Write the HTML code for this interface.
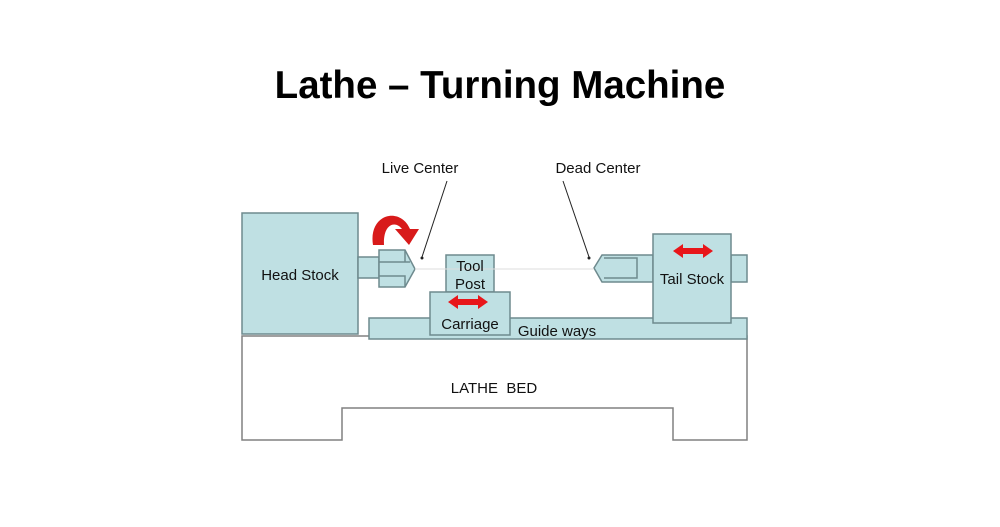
<!DOCTYPE html>
<html><head><style>
body{margin:0;background:#fff;}
</style></head><body>
<svg width="1000" height="522" viewBox="0 0 1000 522" xmlns="http://www.w3.org/2000/svg" font-family="Liberation Sans, sans-serif">
<rect width="1000" height="522" fill="#fff"/>
<text x="500" y="98" text-anchor="middle" font-size="38.5" font-weight="bold" fill="#000">Lathe – Turning Machine</text>
<g stroke="#6e8a8e" stroke-width="1.5" fill="#bfe0e3">
<path d="M242 336 L747 336 L747 440 L673 440 L673 408 L342 408 L342 440 L242 440 Z" fill="#fff" stroke="#808080"/>
<rect x="369" y="318" width="378" height="21"/>
<rect x="242" y="213" width="116" height="121"/>
<rect x="358" y="257" width="21" height="21"/>
<path d="M379 250 L405 250 L415 269 L405 287 L379 287 Z"/>
<path d="M379 262 L405 262 M379 276 L405 276 L405 287 M405 250 L405 262 L410 262" fill="none"/>
<rect x="446" y="255" width="48" height="37"/>
<rect x="430" y="292" width="80" height="43"/>
<rect x="731" y="255" width="16" height="27"/>
<path d="M653 255 L602 255 L594 268 L602 282 L653 282 Z"/>
<path d="M604 258 L637 258 L637 278 L604 278" fill="none"/>
<rect x="653" y="234" width="78" height="89"/>
</g>
<line x1="415" y1="269" x2="594" y2="269" stroke="#ddd" stroke-width="1"/>
<line x1="447" y1="181" x2="422" y2="257" stroke="#222" stroke-width="1"/>
<circle cx="422" cy="258" r="1.5" fill="#222"/>
<line x1="563" y1="181" x2="589" y2="257" stroke="#222" stroke-width="1"/>
<circle cx="589" cy="258" r="1.5" fill="#222"/>
<path d="M373 245 C368 214 400 206 410 229 L419 229 L409 245 L395 229 L402 229 C395 220 383 224 384 245 Z" fill="#d81a1a"/>
<path d="M448 302 L458 295 L458 299 L478 299 L478 295 L488 302 L478 309 L478 305 L458 305 L458 309 Z" fill="#e8161a"/>
<path d="M673 251 L683 244 L683 248 L703 248 L703 244 L713 251 L703 258 L703 254 L683 254 L683 258 Z" fill="#e8161a"/>
<g font-size="15" fill="#111" text-anchor="middle">
<text x="420" y="173">Live Center</text>
<text x="598" y="173">Dead Center</text>
<text x="300" y="280">Head Stock</text>
<text x="470" y="271">Tool</text>
<text x="470" y="289">Post</text>
<text x="470" y="329">Carriage</text>
<text x="557" y="336">Guide ways</text>
<text x="692" y="284">Tail Stock</text>
<text x="494" y="393">LATHE&#160; BED</text>
</g>
</svg>
</body></html>
